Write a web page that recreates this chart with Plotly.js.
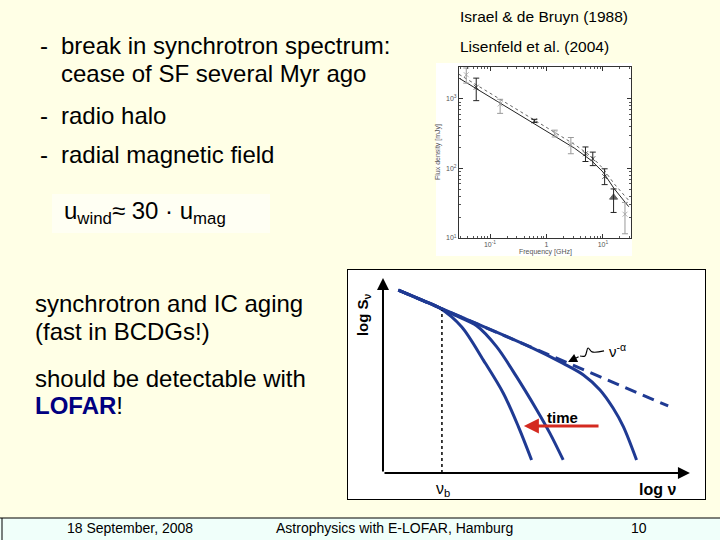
<!DOCTYPE html>
<html><head><meta charset="utf-8">
<script src="https://cdn.plot.ly/plotly-3.0.1.min.js"></script>
<style>html,body{margin:0;padding:0;background:#FFFFE6}#chart{width:720px;height:540px}</style>
</head><body><div id="chart"></div>
<script>
// ---------- Data: radio spectrum (Lisenfeld et al. 2004) ----------
const freqGHz   = [0.038, 0.057, 0.151, 0.61, 1.4, 2.7, 4.9, 6.6, 10.7, 15.4, 24.5];
const fluxMJy   = [2230, 1476, 847, 485, 318, 220, 163, 138, 76.5, 38.4, 22];
const fluxHi    = [2790, 1995, 989, 510, 356, 279, 204, 172, 99, 50.8, 32.5];
const fluxLo    = [1690, 946, 621, 460, 284, 163, 126, 110, 58.6, 23.3, 11.5];
const pointGroup  = ['grey','dark','grey','dark','grey','grey','dark','dark','dark','dark','grey'];
const pointSymbol = ['x','x','x','x','x','x','x','x','x','triangle','x'];
const fitFreq   = [0.0282, 0.1, 0.316, 1, 3.16, 6.31, 10, 15.85, 28.6];
const fitSolid  = [1995, 1072, 603, 344, 195, 129, 89, 51, 28.2];
const fitDotted = [2265, 1216, 684, 389, 221, 148, 100, 60, 34.7];
const smallXTicks = [0.1, 1, 10];
const smallXTickText = ['10<sup>-1</sup>', '1', '10<sup>1</sup>'];
const smallYTicks = [10, 100, 1000];
const smallYTickText = ['10<sup>1</sup>', '10<sup>2</sup>', '10<sup>3</sup>'];

// ---------- Data: schematic aging spectra (log nu, log S_nu, arbitrary units) ----------
const powerLawX = [0.50, 9.29];
const powerLawY = [9.38, 3.44];
const curve1X = [0.50, 1.31, 1.86, 2.56, 3.27, 3.92, 4.41, 4.84];
const curve1Y = [9.38, 8.84, 8.45, 7.50, 5.79, 4.09, 2.38, 0.67];
const curve2X = [0.50, 1.53, 2.40, 3.05, 3.70, 4.35, 5.01, 5.44, 5.87];
const curve2Y = [9.38, 8.70, 8.05, 7.55, 6.48, 4.94, 3.23, 2.03, 0.67];
const curve3X = [0.50, 2.62, 4.79, 5.87, 6.53, 7.07, 7.50, 7.83, 8.26];
const curve3Y = [9.38, 7.95, 6.47, 5.62, 5.03, 4.26, 3.32, 2.38, 0.67];
const breakNuX = [1.92, 1.92];
const breakNuY = [0, 8.35];
const squiggleX = [7.20, 6.81, 6.68, 6.58, 6.42];
const squiggleY = [6.26, 6.21, 6.41, 6.00, 6.00];
const squiggleTip = [6.03, 5.69];
const timeArrowFrom = [7.07, 2.41];
const timeArrowTo = [4.59, 2.41];

// ---------- helpers ----------
const W = 720, H = 540;
const px = x => x / W;
const py = y => 1 - y / H;
const FONT = 'Liberation Sans, Arial, sans-serif';
const BLUE = '#1F3A93';

const traces = [];
// small spectrum plot
traces.push({x: fitFreq, y: fitDotted, xaxis: 'x', yaxis: 'y', mode: 'lines',
  line: {color: '#666', width: 1, dash: 'dot'}, hoverinfo: 'skip'});
traces.push({x: fitFreq, y: fitSolid, xaxis: 'x', yaxis: 'y', mode: 'lines',
  line: {color: '#222', width: 1}, hoverinfo: 'skip'});
['grey', 'dark'].forEach(g => {
  const idx = pointGroup.map((v, i) => v === g ? i : -1).filter(i => i >= 0);
  const col = g === 'grey' ? '#9a9a9a' : '#222';
  const sym = idx.map(i => pointSymbol[i] === 'triangle' ? 'triangle-up' : 'x-thin');
  traces.push({
    x: idx.map(i => freqGHz[i]), y: idx.map(i => fluxMJy[i]),
    xaxis: 'x', yaxis: 'y', mode: 'markers',
    marker: {symbol: sym, size: idx.map(i => pointSymbol[i] === 'triangle' ? 7 : 5),
      color: col, line: {color: col, width: 1}},
    error_y: {type: 'data', symmetric: false,
      array: idx.map(i => fluxHi[i] - fluxMJy[i]),
      arrayminus: idx.map(i => fluxMJy[i] - fluxLo[i]),
      color: col, thickness: 1, width: 3},
    hoverinfo: 'skip'
  });
});

// schematic
traces.push({x: powerLawX, y: powerLawY, xaxis: 'x2', yaxis: 'y2', mode: 'lines',
  line: {color: BLUE, width: 3, dash: '12px,7px'}, hoverinfo: 'skip'});
[[curve1X, curve1Y], [curve2X, curve2Y], [curve3X, curve3Y]].forEach(c => {
  traces.push({x: c[0], y: c[1], xaxis: 'x2', yaxis: 'y2', mode: 'lines',
    line: {color: BLUE, width: 3, shape: 'spline', smoothing: 0.9}, hoverinfo: 'skip'});
});
traces.push({x: breakNuX, y: breakNuY, xaxis: 'x2', yaxis: 'y2', mode: 'lines',
  line: {color: '#000', width: 1.5, dash: 'dot'}, hoverinfo: 'skip'});
traces.push({x: squiggleX, y: squiggleY, xaxis: 'x2', yaxis: 'y2', mode: 'lines',
  line: {color: '#000', width: 1.2, shape: 'spline'}, hoverinfo: 'skip'});

// minor ticks for small log axes
const minorX = [], minorY = [];
[0.01, 0.1, 1, 10].forEach(d => { for (let k = 2; k <= 9; k++) minorX.push(d * k); });
[10, 100, 1000].forEach(d => { for (let k = 2; k <= 9; k++) minorY.push(d * k); });

const txt = (text, x, y, size, opts) => Object.assign({
  text: text, x: px(x), y: py(y), xref: 'paper', yref: 'paper',
  xanchor: 'left', yanchor: 'middle', showarrow: false,
  font: {family: FONT, size: size, color: '#000'}
}, opts || {});

const annotations = [
  txt('-', 38, 45, 24), txt('break in synchrotron spectrum:', 59, 45, 24),
  txt('cease of SF several Myr ago', 59, 73, 24),
  txt('-', 38, 116, 24), txt('radio halo', 59, 116, 24),
  txt('-', 38, 154, 24), txt('radial magnetic field', 59, 154, 24),
  txt('u<sub>wind</sub>≈ 30 · u<sub>mag</sub>', 62, 213, 24),
  txt('synchrotron and IC aging', 33, 303, 24),
  txt('(fast in BCDGs!)', 33, 331, 24),
  txt('should be detectable with', 33, 378, 24),
  txt('<b><span style="color:#000080">LOFAR</span></b>!', 33, 405, 24),
  txt('Israel &amp; de Bruyn (1988)', 458, 17, 15.5),
  txt('Lisenfeld et al. (2004)', 458, 47, 15.5),
  // footer
  txt('18 September, 2008', 130, 528, 14, {xanchor: 'center'}),
  txt('Astrophysics with E-LOFAR, Hamburg', 394, 528, 14, {xanchor: 'center'}),
  txt('10', 639, 528, 14, {xanchor: 'center'}),
  // small plot axis titles
  txt('Frequency [GHz]', 545, 252, 7, {xanchor: 'center', font: {family: FONT, size: 7, color: '#555'}}),
  txt('Flux density [mJy]', 438, 152, 7, {xanchor: 'center', textangle: -90, font: {family: FONT, size: 7, color: '#555'}}),
];

const dAnn = (text, x, y, size, opts) => Object.assign({
  text: text, x: x, y: y, xref: 'x2', yref: 'y2', showarrow: false,
  xanchor: 'center', yanchor: 'middle',
  font: {family: FONT, size: size, color: '#000'}
}, opts || {});
const arrowAnn = (to, from, width, color, size) => ({
  text: '', x: to[0], y: to[1], ax: from[0], ay: from[1],
  xref: 'x2', yref: 'y2', axref: 'x2', ayref: 'y2',
  showarrow: true, arrowhead: 2, arrowsize: size, arrowwidth: width, arrowcolor: color, standoff: 0
});
annotations.push(
  dAnn('<b>log S<sub>ν</sub></b>', -0.65, 8.1, 15, {textangle: -90}),
  dAnn('<b>log ν</b>', 8.93, -0.87, 16),
  dAnn('ν<sub>b</sub>', 1.95, -0.87, 16),
  dAnn('ν<sup>-α</sup>', 7.30, 6.30, 15, {xanchor: 'left'}),
  dAnn('<b>time</b>', 5.85, 2.87, 15),
  arrowAnn([10, 0], [0, 0], 2, '#000', 1.2),
  arrowAnn([0, 10], [0, 0], 2, '#000', 1.2),
  arrowAnn(timeArrowTo, timeArrowFrom, 3, '#D42A20', 1),
  arrowAnn(squiggleTip, [squiggleX[squiggleX.length - 1], squiggleY[squiggleY.length - 1]], 1.2, '#000', 1.5)
);

const shapes = [
  {type: 'rect', xref: 'paper', yref: 'paper', x0: px(436), x1: px(632), y0: py(256), y1: py(63),
   fillcolor: '#FFFFFF', line: {width: 0}, layer: 'below'},
  {type: 'rect', xref: 'paper', yref: 'paper', x0: px(52), x1: px(270), y0: py(233), y1: py(194),
   fillcolor: '#FFFFF3', line: {width: 0}, layer: 'below'},
  {type: 'rect', xref: 'paper', yref: 'paper', x0: 0, x1: 1, y0: 0, y1: py(518),
   fillcolor: '#F0FFFA', line: {width: 0}, layer: 'below'},
  {type: 'line', xref: 'paper', yref: 'paper', x0: 0, x1: 1, y0: py(518), y1: py(518),
   line: {color: '#000', width: 1}},
  {type: 'line', xref: 'paper', yref: 'paper', x0: px(2), x1: px(2), y0: 0, y1: py(518),
   line: {color: '#000', width: 1}}
];

const layout = {
  width: W, height: H, margin: {l: 0, r: 0, t: 0, b: 0},
  paper_bgcolor: '#FFFFE6', plot_bgcolor: '#FFFFFF',
  showlegend: false, hovermode: false,
  font: {family: FONT},
  xaxis: {domain: [px(459), px(631)], type: 'log', range: [-1.549, 1.496], anchor: 'y',
    showline: true, mirror: 'allticks', linecolor: '#333', linewidth: 1,
    ticks: 'inside', ticklen: 4, tickcolor: '#333', tickvals: smallXTicks, ticktext: smallXTickText,
    tickfont: {size: 7, color: '#555'}, showgrid: false, zeroline: false,
    minor: {tickmode: 'array', tickvals: minorX, ticks: 'inside', ticklen: 2, tickcolor: '#555', showgrid: false}},
  yaxis: {domain: [py(238), py(67)], type: 'log', range: [1, 3.46], anchor: 'x',
    showline: true, mirror: 'allticks', linecolor: '#333', linewidth: 1,
    ticks: 'inside', ticklen: 4, tickcolor: '#333', tickvals: smallYTicks, ticktext: smallYTickText,
    tickfont: {size: 7, color: '#555'}, showgrid: false, zeroline: false,
    minor: {tickmode: 'array', tickvals: minorY, ticks: 'inside', ticklen: 2, tickcolor: '#555', showgrid: false}},
  xaxis2: {domain: [px(348), px(705)], range: [-1.14, 10.49], anchor: 'y2',
    showline: true, mirror: true, linecolor: '#000', linewidth: 1,
    showticklabels: false, ticks: '', showgrid: false, zeroline: false},
  yaxis2: {domain: [py(499), py(270)], range: [-1.333, 10.41], anchor: 'x2',
    showline: true, mirror: true, linecolor: '#000', linewidth: 1,
    showticklabels: false, ticks: '', showgrid: false, zeroline: false},
  annotations: annotations,
  shapes: shapes
};

Plotly.newPlot('chart', traces, layout, {staticPlot: true, displayModeBar: false});
</script></body></html>
